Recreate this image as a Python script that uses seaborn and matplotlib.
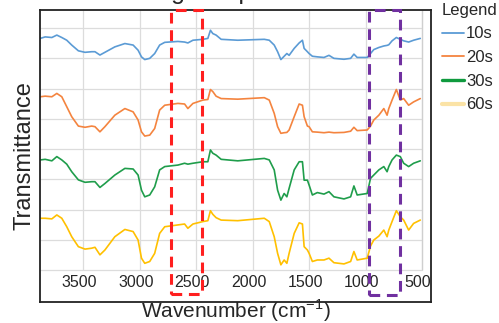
import matplotlib
matplotlib.use('Agg')
import matplotlib.pyplot as plt
import matplotlib.transforms as mtransforms
from matplotlib.patches import Rectangle
import pandas as pd
import seaborn as sns

# valores (unidades arbitrarias, curvas empilhadas)
wavenumber = [3882, 3838, 3779, 3735, 3691, 3647, 3603, 3544, 3485, 3426, 3397, 3353,
              3309, 3221, 3132, 3059, 3015, 2985, 2956, 2912, 2868, 2824, 2779, 2662,
              2603, 2574, 2529, 2441, 2397, 2374, 2353, 2324, 2279, 2132, 1897, 1853,
              1809, 1779, 1750, 1721, 1697, 1677, 1632, 1588, 1559, 1544, 1515, 1500,
              1471, 1427, 1368, 1324, 1280, 1191, 1132, 1103, 1074, 985, 956, 927,
              882, 838, 809, 794, 765, 727, 692, 662, 618, 574, 515]

t_10s = [7.66, 7.71, 7.69, 7.77, 7.69, 7.60, 7.44, 7.25, 7.20, 7.22, 7.22, 7.11,
         7.20, 7.38, 7.49, 7.44, 7.27, 7.05, 6.96, 7.00, 7.16, 7.44, 7.53, 7.56,
         7.54, 7.51, 7.60, 7.63, 7.66, 7.93, 7.82, 7.77, 7.63, 7.60, 7.63, 7.60,
         7.44, 7.22, 6.96, 7.07, 7.16, 7.10, 7.33, 7.51, 7.60, 7.33, 7.22, 7.16,
         7.07, 7.05, 7.03, 7.10, 7.00, 6.97, 7.00, 7.14, 7.03, 7.03, 7.16, 7.29,
         7.36, 7.41, 7.43, 7.45, 7.58, 7.69, 7.63, 7.58, 7.54, 7.60, 7.66]

t_20s = [5.73, 5.75, 5.73, 5.84, 5.73, 5.40, 5.07, 4.76, 4.72, 4.76, 4.74, 4.57,
         4.74, 5.12, 5.34, 5.23, 4.96, 4.57, 4.43, 4.46, 4.68, 5.29, 5.45, 5.51,
         5.49, 5.34, 5.51, 5.62, 5.64, 5.97, 5.90, 5.75, 5.67, 5.65, 5.70, 5.62,
         5.18, 4.74, 4.52, 4.54, 4.55, 4.63, 5.07, 5.49, 5.45, 5.07, 4.76, 4.74,
         4.57, 4.56, 4.54, 4.56, 4.54, 4.55, 4.59, 4.72, 4.61, 4.63, 4.76, 4.96,
         5.12, 5.34, 5.12, 5.34, 5.62, 5.97, 5.62, 5.67, 5.45, 5.56, 5.67]

t_30s = [3.64, 3.66, 3.61, 3.75, 3.64, 3.50, 3.25, 2.98, 2.90, 2.92, 2.92, 2.73,
         2.86, 3.14, 3.36, 3.34, 3.14, 2.64, 2.42, 2.48, 2.75, 3.31, 3.42, 3.47,
         3.53, 3.50, 3.53, 3.58, 3.58, 3.97, 3.86, 3.80, 3.66, 3.61, 3.69, 3.64,
         3.31, 2.64, 2.31, 2.53, 2.42, 2.70, 3.31, 3.58, 3.58, 2.97, 2.97, 2.81,
         2.48, 2.56, 2.51, 2.59, 2.42, 2.35, 2.42, 2.78, 2.48, 2.53, 3.03, 3.14,
         3.31, 3.42, 3.25, 3.42, 3.64, 3.80, 3.75, 3.53, 3.42, 3.53, 3.61]

t_60s = [1.71, 1.71, 1.69, 1.82, 1.71, 1.43, 1.10, 0.77, 0.69, 0.72, 0.75, 0.50,
         0.66, 1.10, 1.34, 1.27, 0.99, 0.39, 0.22, 0.28, 0.55, 1.21, 1.43, 1.49,
         1.52, 1.38, 1.52, 1.60, 1.63, 1.96, 1.84, 1.73, 1.65, 1.63, 1.71, 1.60,
         1.10, 0.55, 0.17, 0.33, 0.22, 0.55, 1.21, 1.56, 1.52, 0.77, 0.66, 0.55,
         0.28, 0.33, 0.33, 0.39, 0.24, 0.20, 0.28, 0.61, 0.33, 0.39, 0.79, 0.99,
         1.12, 1.32, 1.10, 1.32, 1.60, 1.96, 1.76, 1.65, 1.32, 1.54, 1.65]

series = ['10s', '20s', '30s', '60s']
cores = ['#5b9bd5', '#f4843f', '#1f9d4b', '#ffc000']
cores_legenda = ['#5b9bd5', '#f4843f', '#0f9a3e', '#fbe3a6']
xticks = [3500, 3000, 2500, 2000, 1500, 1000, 500]

# regioes destacadas (cm-1)
regiao_vermelha = (2720, 2445)
regiao_roxa = (967, 693)

df = pd.DataFrame({
    'Wavenumber': wavenumber * 4,
    'Transmittance': t_10s + t_20s + t_30s + t_60s,
    'Tempo': sum([[s] * len(wavenumber) for s in series], []),
})

sns.set_style('white')
plt.rcParams['font.family'] = ['Liberation Sans', 'DejaVu Sans']
plt.rcParams['mathtext.fontset'] = 'custom'
plt.rcParams['mathtext.rm'] = 'Liberation Sans'

fig = plt.figure(figsize=(4.99, 3.23), dpi=100)
ax = fig.add_axes([40 / 499, 1 - 302 / 323, 391 / 499, 292 / 323])

# grade
ax.vlines(xticks, 0, 8.6, color='#dcdcdc', lw=0.9, zorder=0)
ax.hlines(range(9), 3884, 500, color='#dcdcdc', lw=0.9, zorder=0)
ax.vlines([500], 0, 8.6, color='#cfcfcf', lw=0.9, zorder=0)

sns.lineplot(data=df, x='Wavenumber', y='Transmittance', hue='Tempo',
             palette=cores, sort=False, estimator=None, lw=1.2, ax=ax)

ax.set_xlim(3884, 420)
ax.set_ylim(-1.06, 8.6)
ax.set_yticks([])
ax.set_xticks(xticks)
ax.tick_params(axis='x', length=0, pad=-19.5, labelsize=11.5)
shift = mtransforms.ScaledTranslation(-4 / 100, 0, fig.dpi_scale_trans)
for lbl in ax.get_xticklabels():
    lbl.set_transform(lbl.get_transform() + shift)

for s in ax.spines.values():
    s.set_color('#222222')
    s.set_linewidth(1.3)

ax.set_xlabel('Wavenumber (cm$^{-1}$)', fontsize=15, labelpad=-3)
ax.set_ylabel('Transmittance', fontsize=17, labelpad=3)

# retangulos tracejados
for (x0, x1), cor, y0 in [(regiao_vermelha, '#ff1f1f', -0.79), (regiao_roxa, '#7030a0', -0.83)]:
    ax.add_patch(Rectangle((x0, y0), x1 - x0, 8.6 - y0, fill=False, edgecolor=cor,
                           lw=2.2, ls=(0, (3.5, 2.2)), clip_on=False, zorder=5))

# titulo (cortado no topo)
fig.text(0.495, 1 + 1.5 / 323, 'Coating Temperature Scan', ha='center', va='baseline',
         fontsize=18)

leg = ax.legend(title='Legend', loc='upper left', bbox_to_anchor=(1.027, 1.025),
                frameon=False, fontsize=12, title_fontsize=12, handlelength=1.35,
                handletextpad=0.12, labelspacing=0.52, alignment='left',
                borderaxespad=0, borderpad=0)
for linha, cor, lw in zip(leg.get_lines(), cores_legenda, [1.3, 1.3, 2.4, 3.0]):
    linha.set_color(cor)
    linha.set_linewidth(lw)

fig.savefig('out.png', dpi=100)
